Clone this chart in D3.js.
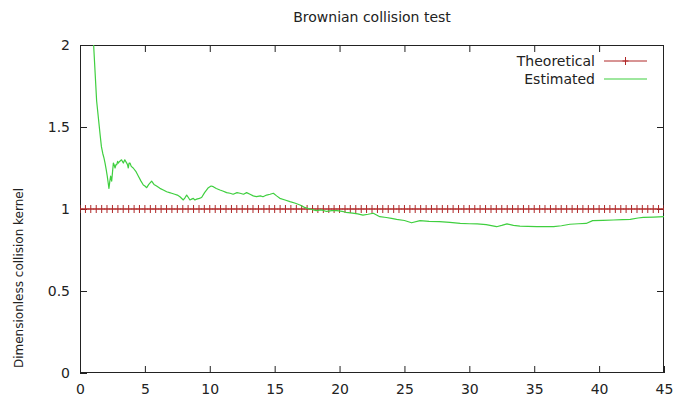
<!DOCTYPE html>
<html>
<head>
<meta charset="utf-8">
<script src="https://cdn.jsdelivr.net/npm/d3@7/dist/d3.min.js"></script>
<style>
  html, body { margin: 0; padding: 0; background: #fff; }
  text { font-family: "DejaVu Sans", sans-serif; fill: #222; }
</style>
</head>
<body>
<svg id="chart" width="673" height="403"></svg>
<script>
// ---- data ----
const chartTitle = "Brownian collision test";
const yLabel = "Dimensionless collision kernel";
const seriesNames = ["Theoretical", "Estimated"];
const xTicks = [0, 5, 10, 15, 20, 25, 30, 35, 40, 45];
const yTicks = [0, 0.5, 1, 1.5, 2];
const yTickLabels = ["0", "0.5", "1", "1.5", "2"];

const theoreticalValue = 1;
const theoreticalT = [
  0, 0.42, 0.83, 1.25, 1.67, 2.08, 2.5, 2.92, 3.33, 3.75, 4.17, 4.58,
  5, 5.42, 5.83, 6.25, 6.67, 7.08, 7.5, 7.92, 8.33, 8.75, 9.17, 9.58,
  10, 10.42, 10.83, 11.25, 11.67, 12.08, 12.5, 12.92, 13.33, 13.75, 14.17, 14.58,
  15, 15.42, 15.83, 16.25, 16.67, 17.08, 17.5, 17.92, 18.33, 18.75, 19.17, 19.58,
  20, 20.42, 20.83, 21.25, 21.67, 22.08, 22.5, 22.92, 23.33, 23.75, 24.17, 24.58,
  25, 25.42, 25.83, 26.25, 26.67, 27.08, 27.5, 27.92, 28.33, 28.75, 29.17, 29.58,
  30, 30.42, 30.83, 31.25, 31.67, 32.08, 32.5, 32.92, 33.33, 33.75, 34.17, 34.58,
  35, 35.42, 35.83, 36.25, 36.67, 37.08, 37.5, 37.92, 38.33, 38.75, 39.17, 39.58,
  40, 40.42, 40.83, 41.25, 41.67, 42.08, 42.5, 42.92, 43.33, 43.75, 44.17, 44.58,
  45
];

const estimatedT = [
  0.9, 1.05, 1.28, 1.54, 1.65, 1.75, 1.85, 1.93, 2.02, 2.1, 2.17, 2.23, 2.3, 2.36, 2.44, 2.5,
  2.57, 2.63, 2.7, 2.77, 2.83, 2.9, 2.95, 3.05, 3.2, 3.27, 3.34, 3.45, 3.6, 3.66, 3.72, 3.78,
  3.85, 3.95, 4.1, 4.3, 4.5, 4.7, 4.88, 5.0, 5.14, 5.3, 5.52, 5.7, 5.9, 6.16, 6.42, 6.68,
  6.9, 7.06, 7.3, 7.5, 7.7, 7.96, 8.1, 8.22, 8.35, 8.47, 8.6, 8.73, 8.85, 8.99, 9.2, 9.37,
  9.6, 9.89, 10.1, 10.27, 10.5, 10.78, 11.0, 11.3, 11.56, 11.8, 12.1, 12.33, 12.6, 12.84, 13.1, 13.35,
  13.6, 13.9, 14.1, 14.38, 14.65, 14.9, 15.15, 15.4, 15.8, 16.18, 16.6, 16.95, 17.3, 17.72, 18.2, 18.6,
  19.0, 19.4, 19.8, 20.2, 20.5, 21.0, 21.4, 21.8, 22.2, 22.6, 23.1, 23.6, 24.0, 24.4, 25.0, 25.55,
  26.2, 26.9, 27.7, 28.5, 29.3, 30.0, 30.6, 31.3, 32.1, 32.5, 32.9, 33.4, 33.9, 34.5, 35.2, 35.8,
  36.5, 37.1, 37.75, 38.4, 39.0, 39.5, 40.3, 41.1, 41.8, 42.4, 43.0, 43.4, 44.2, 45.0
];
const estimatedV = [
  2.3, 2.0, 1.66, 1.46, 1.38, 1.34, 1.31, 1.28, 1.24, 1.20, 1.16, 1.126, 1.17, 1.20, 1.17, 1.22,
  1.28, 1.27, 1.25, 1.27, 1.27, 1.29, 1.28, 1.29, 1.30, 1.29, 1.28, 1.30, 1.28, 1.27, 1.25, 1.28,
  1.28, 1.26, 1.25, 1.23, 1.20, 1.17, 1.146, 1.14, 1.13, 1.15, 1.17, 1.15, 1.14, 1.126, 1.116, 1.105,
  1.10, 1.096, 1.09, 1.085, 1.075, 1.055, 1.07, 1.085, 1.07, 1.055, 1.06, 1.065, 1.055, 1.06, 1.065, 1.07,
  1.10, 1.13, 1.14, 1.136, 1.125, 1.116, 1.11, 1.10, 1.096, 1.09, 1.10, 1.096, 1.09, 1.10, 1.09, 1.08,
  1.075, 1.08, 1.075, 1.085, 1.09, 1.096, 1.08, 1.065, 1.055, 1.045, 1.035, 1.024, 1.01, 1.0, 0.99, 0.995,
  0.985, 0.99, 0.99, 0.985, 0.98, 0.975, 0.97, 0.963, 0.968, 0.974, 0.953, 0.948, 0.943, 0.937, 0.93, 0.916,
  0.929, 0.925, 0.923, 0.918, 0.912, 0.91, 0.909, 0.905, 0.892, 0.9, 0.909, 0.9, 0.896, 0.894, 0.892, 0.893,
  0.892, 0.898, 0.907, 0.91, 0.912, 0.929, 0.931, 0.933, 0.935, 0.937, 0.945, 0.949, 0.951, 0.953
];

// ---- layout ----
const svg = d3.select("#chart");
const L = 80, R = 664, T = 45, B = 373;
const x = d3.scaleLinear().domain([0, 45]).range([L, R]);
const y = d3.scaleLinear().domain([0, 2]).range([B, T]);
const redColor = "#b02828";
const greenColor = "#3fcf3f";
const tickLen = 7;
const fs = 14;

svg.append("defs").append("clipPath").attr("id", "plotclip")
  .append("rect").attr("x", L).attr("y", T).attr("width", R - L).attr("height", B - T);

// axes (gnuplot-style inward ticks, mirrored)
const axBottom = d3.axisBottom(x).tickValues(xTicks).tickSizeInner(-tickLen).tickSizeOuter(0).tickPadding(11).tickFormat(d3.format("d"));
const axTop = d3.axisTop(x).tickValues(xTicks.slice(1, -1)).tickSizeInner(-tickLen).tickSizeOuter(0).tickFormat("");
const axLeft = d3.axisLeft(y).tickValues(yTicks).tickSizeInner(-tickLen).tickSizeOuter(0).tickPadding(10).tickFormat((d, i) => yTickLabels[i]);
const axRight = d3.axisRight(y).tickValues(yTicks.slice(1, -1)).tickSizeInner(-tickLen).tickSizeOuter(0).tickFormat("");

function style(g) {
  g.select(".domain").remove();
  g.selectAll("line").attr("stroke", "#222").attr("stroke-width", 1);
  g.selectAll("text").attr("font-size", fs).attr("fill", "#222").attr("font-family", "DejaVu Sans, sans-serif");
}
svg.append("g").attr("transform", `translate(0,${B})`).call(axBottom).call(style);
svg.append("g").attr("transform", `translate(0,${T})`).call(axTop).call(style);
svg.append("g").attr("transform", `translate(${L},0)`).call(axLeft).call(style);
svg.append("g").attr("transform", `translate(${R},0)`).call(axRight).call(style);

// frame
svg.append("rect").attr("x", L + 0.5).attr("y", T + 0.5).attr("width", R - L - 1).attr("height", B - T - 1)
  .attr("fill", "none").attr("stroke", "#222").attr("stroke-width", 1);

// title
svg.append("text").attr("x", (L + R) / 2).attr("y", 22).attr("text-anchor", "middle")
  .attr("font-size", fs).text(chartTitle);

// y label
svg.append("text").attr("transform", `translate(23,278) rotate(-90)`)
  .attr("text-anchor", "middle").attr("font-size", 12).text(yLabel);

const plot = svg.append("g").attr("clip-path", "url(#plotclip)");

// theoretical
const theo = theoreticalT.map(t => ({ t, v: theoreticalValue }));
plot.append("path").datum(theo)
  .attr("fill", "none").attr("stroke", redColor).attr("stroke-width", 1)
  .attr("d", d3.line().x(d => x(d.t)).y(d => y(d.v)));
plot.selectAll(".mk").data(theo).enter().append("path")
  .attr("class", "mk")
  .attr("d", d => `M${x(d.t) - 3},${y(d.v)}H${x(d.t) + 3}M${x(d.t)},${y(d.v) - 4}V${y(d.v) + 4}`)
  .attr("stroke", redColor).attr("stroke-width", 1).attr("fill", "none");

// estimated
const est = estimatedT.map((t, i) => ({ t, v: estimatedV[i] }));
plot.append("path").datum(est)
  .attr("fill", "none").attr("stroke", greenColor).attr("stroke-width", 1.2)
  .attr("stroke-linejoin", "round")
  .attr("d", d3.line().x(d => x(d.t)).y(d => y(d.v)));

// legend
const legX = 595, lineX0 = 604, lineX1 = 647;
const legY = [61, 79];
const legColors = [redColor, greenColor];
seriesNames.forEach((name, i) => {
  svg.append("text").attr("x", legX).attr("y", legY[i] + 5).attr("text-anchor", "end")
    .attr("font-size", fs).text(name);
  svg.append("line").attr("x1", lineX0).attr("x2", lineX1).attr("y1", legY[i]).attr("y2", legY[i])
    .attr("stroke", legColors[i]).attr("stroke-width", i === 0 ? 1 : 1.2);
  if (i === 0) {
    const mx = (lineX0 + lineX1) / 2;
    svg.append("path").attr("d", `M${mx - 3},${legY[i]}H${mx + 3}M${mx},${legY[i] - 4}V${legY[i] + 4}`)
      .attr("stroke", redColor).attr("stroke-width", 1);
  }
});
</script>
</body>
</html>
